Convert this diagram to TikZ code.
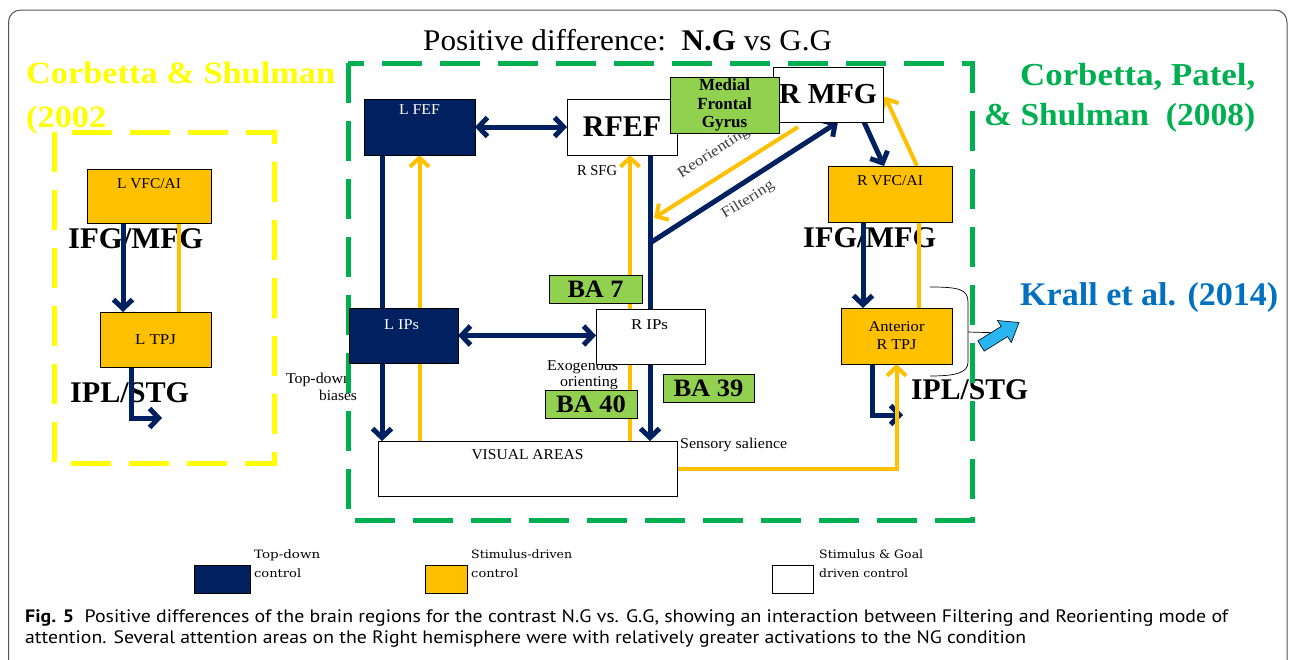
\documentclass[tikz,border=0pt]{standalone}
\usepackage{graphicx}
\usepackage{fontspec}
\setmainfont{Liberation Serif}
\newfontfamily\capfont{PT Sans}
\newfontfamily\legfont{DejaVu Serif}
\usetikzlibrary{arrows.meta}
\definecolor{navy}{HTML}{002060}
\definecolor{gold}{HTML}{FFC000}
\definecolor{lgreen}{HTML}{92D050}
\definecolor{dgreen}{HTML}{00B050}
\definecolor{yel}{HTML}{FFFF00}
\definecolor{kblue}{HTML}{0070C0}
\definecolor{sky}{HTML}{29B6F0}
\definecolor{frame}{HTML}{555555}
\newcommand{\fitw}[2]{\resizebox{#1}{\height}{#2}}
\begin{document}
\begin{tikzpicture}[x=1pt,y=-1pt, line join=miter,
  regbox/.style={draw=black, line width=0.9pt, inner sep=0pt, outer sep=0pt},
  navybox/.style={regbox, fill=navy},
  goldbox/.style={regbox, fill=gold},
  whitebox/.style={regbox, fill=white},
  greenbox/.style={regbox, fill=lgreen},
  lbl/.style={inner sep=0pt, font=\fontsize{15}{15}\selectfont},
  bigl/.style={inner sep=0pt, anchor=base west, font=\fontsize{30}{30}\selectfont\bfseries},
  legt/.style={inner sep=0pt, anchor=base west, font=\legfont\fontsize{11.5}{11.5}\selectfont},
  navyline/.style={draw=navy, line width=5pt},
  goldline/.style={draw=gold, line width=4pt},
  navyarr/.style={navyline, -{Straight Barb[length=9pt,width=19pt]}},
  goldarr/.style={goldline, -{Straight Barb[length=9pt,width=19pt]}},
  navydbl/.style={navyline, {Straight Barb[length=9pt,width=19pt]}-{Straight Barb[length=9pt,width=19pt]}},
  dashframe/.style={line width=5pt, dash pattern=on 40pt off 18pt},
]
\useasboundingbox[fill=white] (0,0) rectangle (1295,659);
% outer frame
\draw[frame, line width=1pt, rounded corners=12pt] (8.5,690) -- (8.5,10) -- (1287,10) -- (1287,690);

% ---------- texts (under lines) ----------
\node[inner sep=0pt, anchor=base west, font=\fontsize{30}{30}\selectfont] (title) at (423,50)
  {\fitw{409pt}{Positive difference:\ \ \textbf{N.G} vs G.G}};
\node[bigl, text=yel, font=\fontsize{31}{31}\selectfont\bfseries] (cs1) at (26,83) {\fitw{309pt}{Corbetta \& Shulman}};
\node[bigl, text=yel, font=\fontsize{31}{31}\selectfont\bfseries] (cs2) at (26,127) {\fitw{80pt}{(2002}};
\node[bigl, text=dgreen, font=\fontsize{32}{32}\selectfont\bfseries] (cp1) at (1020,85) {\fitw{235pt}{Corbetta, Patel,}};
\node[bigl, text=dgreen, font=\fontsize{32}{32}\selectfont\bfseries] (cp2) at (984,125) {\fitw{271pt}{\&\ Shulman\ \ (2008)}};
\node[bigl, text=kblue, font=\fontsize{33}{33}\selectfont\bfseries] (krall) at (1020,305) {\fitw{258pt}{Krall et al. (2014)}};

\node[bigl] (ifgl) at (68,248) {\fitw{135pt}{IFG/MFG}};
\node[bigl] (ifgr) at (803,247) {\fitw{133pt}{IFG/MFG}};
\node[bigl] (ipll) at (70,402) {\fitw{119pt}{IPL/STG}};
\node[bigl] (iplr) at (911,399) {\fitw{117pt}{IPL/STG}};

\node[lbl] (td1) at (318.5,380) {\fitw{65pt}{Top-down}};
\node[lbl] (td2) at (338,395) {\fitw{38pt}{biases}};
\node[lbl] (exo1) at (582.5,367) {\fitw{71pt}{Exogenous}};
\node[lbl] (exo2) at (589,383) {\fitw{58pt}{orienting}};
\node[lbl] (rsfg) at (597,171) {\fitw{40pt}{R SFG}};
\node[lbl, anchor=west] (sens) at (680,445) {\fitw{107pt}{Sensory salience}};
\node[lbl, text=black!75, rotate=33] (reor) at (714,153) {\fitw{82pt}{Reorienting}};
\node[lbl, text=black!75, rotate=32] (filt) at (748,200) {\fitw{59pt}{Filtering}};

% ---------- dashed frames ----------
\draw[dashframe, yel] (54,132) rectangle (274,463);
\draw[dashframe, dgreen] (348,63) rectangle (972,520);

% ---------- boxes (placed first, so connectors can refer to them) ----------
\path
  node[goldbox, minimum width=124pt, minimum height=54pt] (lvfc) at (149,196) {}
  node[goldbox, minimum width=111pt, minimum height=55pt] (ltpj) at (155.5,339.5) {}
  node[navybox, minimum width=111pt, minimum height=56pt] (lfef) at (419.5,127) {}
  node[whitebox, minimum width=110pt, minimum height=56pt] (rfef) at (622,127) {}
  node[whitebox, minimum width=110pt, minimum height=55pt] (rmfg) at (828,94.5) {}
  node[greenbox, minimum width=109pt, minimum height=56pt] (mfg) at (724.5,105) {}
  node[whitebox, minimum width=109pt, minimum height=55pt] (rips) at (650.5,336.5) {}
  node[navybox, minimum width=109pt, minimum height=55pt] (lips) at (403.5,335.5) {}
  node[whitebox, minimum width=299pt, minimum height=55pt] (visual) at (527.5,468.5) {}
  node[goldbox, minimum width=124pt, minimum height=56pt] (rvfc) at (890,194) {}
  node[goldbox, minimum width=111pt, minimum height=56pt] (rtpj) at (896.5,336) {}
  node[greenbox, minimum width=93pt, minimum height=28pt] (ba7) at (595.5,289) {}
  node[greenbox, minimum width=92pt, minimum height=28pt] (ba40) at (591,404) {}
  node[greenbox, minimum width=91pt, minimum height=28pt] (ba39) at (708.5,388) {};

% ---------- connectors ----------
% left hemisphere group
\draw[navyarr] ([xshift=-26pt]lvfc.south) -- ([xshift=-26pt]lvfc.south |- ltpj.north);
\draw[goldline] ([xshift=30pt]lvfc.south |- ltpj.north) -- ([xshift=30pt]lvfc.south);
\draw[navyarr] ([yshift=2pt]ltpj.south west) -- ++(31,0) -- ++(0,53) -- ++(31,0);

% L FEF / L IPs column
\draw[navyarr] ([xshift=-37.5pt]lfef.south) -- ([xshift=-37.5pt]lfef.south |- visual.north);
\draw[goldarr] (lfef.south |- visual.north) -- (lfef.south);
\draw[navydbl] (lfef.east) -- (rfef.west);
\draw[navydbl] (lips.east) -- (lips.east -| rips.west);

% RFEF / R IPs column
\draw[goldarr] ([xshift=8pt]rfef.south |- visual.north) -- ([xshift=8pt]rfef.south);
\draw[navyarr] ([xshift=28pt]rfef.south) -- ([xshift=28pt]rfef.south |- visual.north);
\coordinate (fj) at ([xshift=28pt]rfef.south |- 0,243);
\coordinate (rj) at (654,218);
\draw[navyarr] (fj) -- ([xshift=10pt]rmfg.south);
\draw[goldarr] ([shift={(-30,5)}]rmfg.south) -- (rj);

% right column
\draw[navyarr] ([xshift=36pt]rmfg.south) -- ([xshift=-6pt]rvfc.north);
\draw[goldarr] ([xshift=27pt]rvfc.north) -- ([shift={(2,2)}]rmfg.east);
\draw[navyarr] ([xshift=-27pt]rvfc.south) -- ([xshift=-27pt]rvfc.south |- rtpj.north);
\draw[goldline] ([xshift=29pt]rvfc.south |- rtpj.north) -- ([xshift=29pt]rvfc.south);
\draw[navyarr] ([yshift=2pt]rtpj.south west) -- ++(31,0) -- ++(0,53) -- ++(31,0);
\draw[goldarr] (visual.east) -| (rtpj.south);

% bracket to Krall et al.
\coordinate (bt) at (930,287);
\coordinate (bb) at (930,376);
\coordinate (bm) at (968,332);
\coordinate (ba) at (1004,333);
\draw[black, line width=0.7pt] (bt) .. controls (958,287) and (968,289) .. (968,302) -- (968,362) .. controls (968,372) and (958,376) .. (bb);
\draw[black, line width=0.7pt] (bm) -- (ba);
\draw[black, line width=0.6pt, fill=sky, line join=miter]
  (977.8,340.9) -- (1001.2,326.4) -- (997.5,320.5) -- (1019,322.5) -- (1011.3,342.5) -- (1007.6,336.6) -- (984.2,351.1) -- cycle;

% ---------- boxes drawn on top of connectors ----------
\node[goldbox, minimum width=124pt, minimum height=54pt] at (lvfc) {};
\node[goldbox, minimum width=111pt, minimum height=55pt] at (ltpj) {\fontsize{15}{15}\selectfont\fitw{41pt}{L TPJ}};
\node[navybox, minimum width=111pt, minimum height=56pt] at (lfef) {};
\node[whitebox, minimum width=110pt, minimum height=56pt, font=\fontsize{30}{30}\selectfont\bfseries] at (rfef) {RFEF};
\node[whitebox, minimum width=110pt, minimum height=55pt, font=\fontsize{29}{29}\selectfont\bfseries] at (rmfg) {\fitw{98pt}{R MFG}};
\node[greenbox, minimum width=109pt, minimum height=56pt, align=center, font=\fontsize{17}{18.5}\selectfont\bfseries] at (mfg) {Medial\\Frontal\\Gyrus};
\node[whitebox, minimum width=109pt, minimum height=55pt] at (rips) {};
\node[navybox, minimum width=109pt, minimum height=55pt] at (lips) {};
\node[whitebox, minimum width=299pt, minimum height=55pt] at (visual) {};
\node[goldbox, minimum width=124pt, minimum height=56pt] at (rvfc) {};
\node[goldbox, minimum width=111pt, minimum height=56pt, align=center, font=\fontsize{15}{18}\selectfont] at (rtpj) {\fitw{56pt}{Anterior}\\\fitw{40pt}{R TPJ}};
\node[greenbox, minimum width=93pt, minimum height=28pt, font=\fontsize{25}{25}\selectfont\bfseries] at (ba7) {\fitw{56pt}{BA 7}};
\node[greenbox, minimum width=92pt, minimum height=28pt, font=\fontsize{25}{25}\selectfont\bfseries] at (ba40) {\fitw{70pt}{BA 40}};
\node[greenbox, minimum width=91pt, minimum height=28pt, font=\fontsize{25}{25}\selectfont\bfseries] at (ba39) {\fitw{70pt}{BA 39}};

% box labels placed at top
\node[lbl, text=white] (lfeft) at ([yshift=-11pt]lfef.north) {\fitw{41pt}{L FEF}};
\node[lbl] (lvfct) at ([yshift=-15pt]lvfc.north) {\fitw{64pt}{L VFC/AI}};
\node[lbl, text=white] (lipst) at ([shift={(-2,17)}]lips.north) {\fitw{35pt}{L IPs}};
\node[lbl] (ripst) at ([shift={(-1,16)}]rips.north) {\fitw{37pt}{R IPs}};
\node[lbl] (visualt) at ([yshift=-14pt]visual.north) {\fitw{112pt}{VISUAL AREAS}};
\node[lbl] (rvfct) at ([yshift=-15pt]rvfc.north) {\fitw{66pt}{R VFC/AI}};

% ---------- legend ----------
\node[navybox, minimum width=56pt, minimum height=28pt] (leg1) at (222,579) {};
\node[goldbox, minimum width=42pt, minimum height=28pt] (leg2) at (446,579) {};
\node[whitebox, minimum width=41pt, minimum height=28pt] (leg3) at (792.5,579) {};
\node[legt] (leg1a) at (254,558) {\fitw{66pt}{Top-down}};
\node[legt] (leg1b) at (254,577) {\fitw{47pt}{control}};
\node[legt] (leg2a) at (471,558) {\fitw{101pt}{Stimulus-driven}};
\node[legt] (leg2b) at (471,577) {\fitw{47pt}{control}};
\node[legt] (leg3a) at (819,558) {\fitw{104pt}{Stimulus \& Goal}};
\node[legt] (leg3b) at (819,577) {\fitw{89pt}{driven control}};

% ---------- caption ----------
\node[inner sep=0pt, anchor=base west, font=\capfont\fontsize{18}{18}\selectfont] (cap1) at (25,622)
  {\fitw{1203pt}{\textbf{Fig. 5}\ \ Positive differences of the brain regions for the contrast N.G vs. G.G, showing an interaction between Filtering and Reorienting mode of}};
\node[inner sep=0pt, anchor=base west, font=\capfont\fontsize{18}{18}\selectfont] (cap2) at (25,643)
  {\fitw{1001pt}{attention. Several attention areas on the Right hemisphere were with relatively greater activations to the NG condition}};
\end{tikzpicture}
\end{document}
